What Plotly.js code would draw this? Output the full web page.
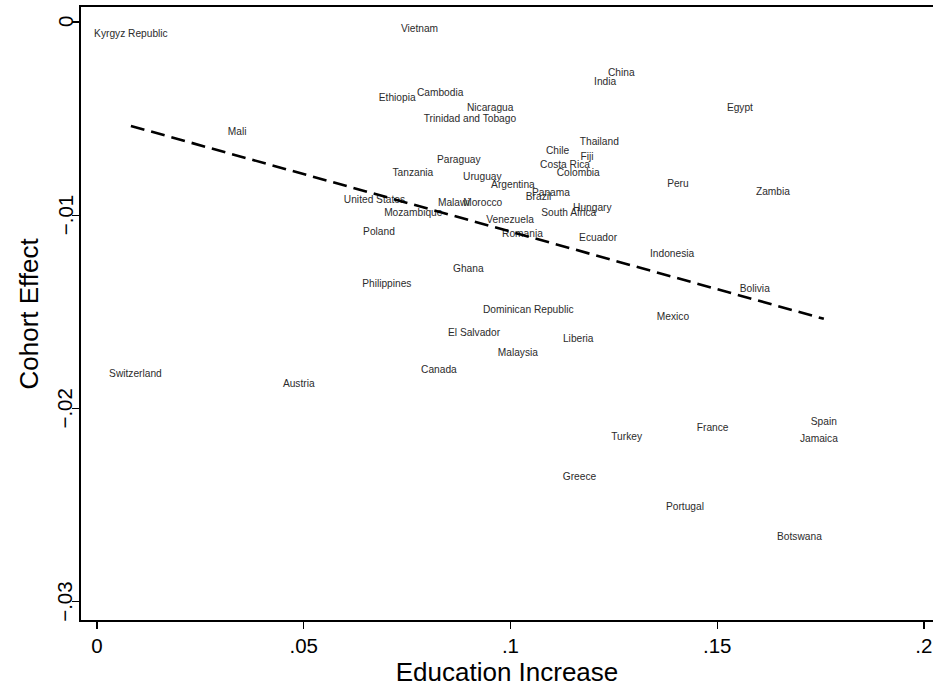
<!DOCTYPE html>
<html>
<head>
<meta charset="utf-8">
<script src="https://cdn.plot.ly/plotly-3.0.1.min.js"></script>
<style>
  html, body { margin: 0; padding: 0; background: #fff; overflow: hidden; }
  #chart { width: 933px; height: 690px; }
</style>
</head>
<body>
<div id="chart"></div>
<script>
// Country labels, placed at (education increase, cohort effect)
const countries = [
  "Kyrgyz Republic", "Vietnam", "China", "India", "Ethiopia", "Cambodia",
  "Nicaragua", "Trinidad and Tobago", "Egypt", "Mali", "Thailand", "Chile",
  "Fiji", "Paraguay", "Costa Rica", "Tanzania", "Colombia", "Uruguay",
  "Peru", "Argentina", "Zambia", "Panama", "Brazil", "United States",
  "Malawi", "Morocco", "Hungary", "Mozambique", "South Africa", "Venezuela",
  "Poland", "Romania", "Ecuador", "Indonesia", "Ghana", "Philippines",
  "Bolivia", "Dominican Republic", "Mexico", "El Salvador", "Liberia", "Malaysia",
  "Canada", "Switzerland", "Austria", "Spain", "France", "Turkey",
  "Jamaica", "Greece", "Portugal", "Botswana"
];

const educationIncrease = [
  0.0082, 0.0780, 0.1268, 0.1229, 0.0726, 0.0830,
  0.0951, 0.0902, 0.1555, 0.0339, 0.1215, 0.1114,
  0.1185, 0.0875, 0.1132, 0.0764, 0.1164, 0.0932,
  0.1405, 0.1006, 0.1635, 0.1098, 0.1068, 0.0671,
  0.0863, 0.0933, 0.1198, 0.0765, 0.1141, 0.0999,
  0.0682, 0.1029, 0.1212, 0.1391, 0.0898, 0.0701,
  0.1591, 0.1043, 0.1393, 0.0912, 0.1164, 0.1018,
  0.0827, 0.0093, 0.0488, 0.1758, 0.1489, 0.1281,
  0.1746, 0.1167, 0.1422, 0.1699
];

const cohortEffect = [
  -0.00062, -0.00041, -0.00266, -0.00315, -0.00398, -0.00372,
  -0.00445, -0.00502, -0.00445, -0.00574, -0.00621, -0.00672,
  -0.00701, -0.00714, -0.00740, -0.00786, -0.00786, -0.00802,
  -0.00838, -0.00846, -0.00884, -0.00887, -0.00908, -0.00921,
  -0.00939, -0.00939, -0.00967, -0.00993, -0.00993, -0.01029,
  -0.01091, -0.01097, -0.01122, -0.01205, -0.01278, -0.01360,
  -0.01384, -0.01490, -0.01531, -0.01614, -0.01645, -0.01717,
  -0.01805, -0.01823, -0.01873, -0.02074, -0.02103, -0.02152,
  -0.02162, -0.02359, -0.02514, -0.02669
];

// Linear fit, evaluated at the smallest and largest education increase
const fitX = [0.0082, 0.1758];
const fitY = [-0.00538, -0.01536];

// Axis ticks
const xTickVals = [0, 0.05, 0.1, 0.15, 0.2];
const xTickText = ["0", ".05", ".1", ".15", ".2"];
const yTickVals = [0, -0.01, -0.02, -0.03];
const yTickText = ["0", "\u2212.01", "\u2212.02", "\u2212.03"];
const yTitle = "Cohort Effect";
const xTitle = "Education Increase";

const FONT = "'Liberation Sans', Arial, Helvetica, sans-serif";

const traces = [
  {
    type: "scatter",
    mode: "text",
    x: educationIncrease,
    y: cohortEffect,
    text: countries,
    textposition: "middle center",
    textfont: { family: FONT, size: 10.2, color: "#2b2b2b" },
    cliponaxis: false,
    hoverinfo: "text",
    showlegend: false
  },
  {
    type: "scatter",
    mode: "lines",
    x: fitX,
    y: fitY,
    line: { color: "#000", width: 2.6, dash: "14px,7px" },
    hoverinfo: "skip",
    showlegend: false
  }
];

// Vertical (rotated) y tick labels and y title, set beside the left axis
const annotations = yTickVals.map((v, i) => ({
  xref: "paper", yref: "y",
  x: 0, y: v,
  xshift: -16,
  xanchor: "center", yanchor: "middle",
  textangle: -90,
  showarrow: false,
  text: yTickText[i],
  font: { family: FONT, size: 20.5, color: "#000" }
}));
annotations.push({
  xref: "paper", yref: "paper",
  x: 0, y: 0.5,
  xshift: -53,
  xanchor: "center", yanchor: "middle",
  textangle: -90,
  showarrow: false,
  text: yTitle,
  font: { family: FONT, size: 26, color: "#000" }
});

const layout = {
  width: 933,
  height: 690,
  margin: { l: 81, r: 0, t: 7, b: 70 },
  paper_bgcolor: "#fff",
  plot_bgcolor: "#fff",
  font: { family: FONT, color: "#000" },
  xaxis: {
    range: [-0.00387, 0.2022],
    tickvals: xTickVals,
    ticktext: xTickText,
    ticks: "outside",
    ticklen: 7,
    tickwidth: 1.3,
    tickcolor: "#000",
    showline: true,
    linecolor: "#000",
    linewidth: 1.6,
    mirror: true,
    showgrid: false,
    zeroline: false,
    tickfont: { family: FONT, size: 20.5, color: "#000" },
    title: { text: xTitle, font: { family: FONT, size: 26, color: "#000" }, standoff: 0 },
    automargin: false
  },
  yaxis: {
    range: [-0.03094, 0.000776],
    tickvals: yTickVals,
    ticks: "outside",
    ticklen: 7,
    tickwidth: 1.3,
    tickcolor: "#000",
    showticklabels: false,
    showline: true,
    linecolor: "#000",
    linewidth: 1.6,
    showgrid: false,
    zeroline: false,
    automargin: false
  },
  annotations: annotations
};

Plotly.newPlot("chart", traces, layout, { displayModeBar: false, staticPlot: true });
</script>
</body>
</html>
